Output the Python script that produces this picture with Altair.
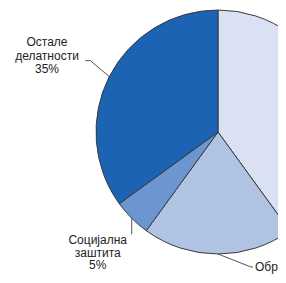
import math
import altair as alt
import pandas as pd

categories = ["Здравство", "Образовање", "Социјална заштита", "Остале делатности"]
values = [40, 20, 5, 35]
colors = ["#d9e1f2", "#b0c3e3", "#6b96d0", "#1c63b3"]

W, H = 270, 267
CX, CY, R = 210, 124, 122

df = pd.DataFrame({"cat": categories, "val": values, "ord": list(range(len(values)))})

pie = alt.Chart(df).mark_arc(radius=R, stroke="#3a3a3a", strokeWidth=1).encode(
    theta=alt.Theta("val:Q", stack=True),
    order=alt.Order("ord:Q"),
    color=alt.Color("cat:N", scale=alt.Scale(domain=categories, range=colors), legend=None),
    x=alt.value(CX), y=alt.value(CY),
)

# mid angles of slices (clockwise from 12 o'clock)
total = sum(values)
mids = []
acc = 0
for v in values:
    mids.append((acc + v / 2) / total * 2 * math.pi)
    acc += v

def edge(i):
    a = mids[i]
    return CX + R * math.sin(a), CY - R * math.cos(a)

lead_rows = []
ox, oy = edge(3)
for k, (px, py) in enumerate([(ox, oy), (ox - 19, oy - 16), (ox - 24, oy - 16)]):
    lead_rows.append({"g": "o", "k": k, "x": px, "y": py})
sx, sy = edge(2)
for k, (px, py) in enumerate([(sx, sy), (sx, sy + 16)]):
    lead_rows.append({"g": "s", "k": k, "x": px, "y": py})
bx, by = edge(1)
for k, (px, py) in enumerate([(bx, by), (bx + 33, by + 13), (bx + 35, by + 13)]):
    lead_rows.append({"g": "e", "k": k, "x": px, "y": py})
lead = pd.DataFrame(lead_rows)

lines = alt.Chart(lead).mark_line(color="#555555", strokeWidth=1).encode(
    x=alt.X("x:Q", scale=None), y=alt.Y("y:Q", scale=None),
    detail="g:N", order="k:Q",
)

labels = pd.DataFrame({
    "text": [["Остале", "делатности", f"{values[3]}%"],
             ["Социјална", "заштита", f"{values[2]}%"],
             [f"Образовање {values[1]}%"]],
    "x": [39, sx - 34, bx + 37],
    "y": [29, sy + 17, by + 13],
})

t1 = alt.Chart(labels.iloc[:1]).mark_text(
    font="Liberation Sans", fontSize=12, color="#222222", align="center",
    baseline="top", lineHeight=13.5,
).encode(x=alt.X("x:Q", scale=None), y=alt.Y("y:Q", scale=None), text="text")

t1b = alt.Chart(labels.iloc[1:2]).mark_text(
    font="Liberation Sans", fontSize=12, color="#222222", align="center",
    baseline="top", lineHeight=12.5,
).encode(x=alt.X("x:Q", scale=None), y=alt.Y("y:Q", scale=None), text="text")

t2 = alt.Chart(labels.iloc[2:]).mark_text(
    font="Liberation Sans", fontSize=12, color="#222222", align="left",
    baseline="middle",
).encode(x=alt.X("x:Q", scale=None), y=alt.Y("y:Q", scale=None), text="text")

chart = alt.layer(pie, lines, t1, t1b, t2).properties(
    width=W, height=H, padding=0, background="white",
    autosize=alt.AutoSizeParams(type="none"),
).configure_view(stroke=None)

chart.save("out.html", embed_options={"renderer": "svg", "actions": False})
